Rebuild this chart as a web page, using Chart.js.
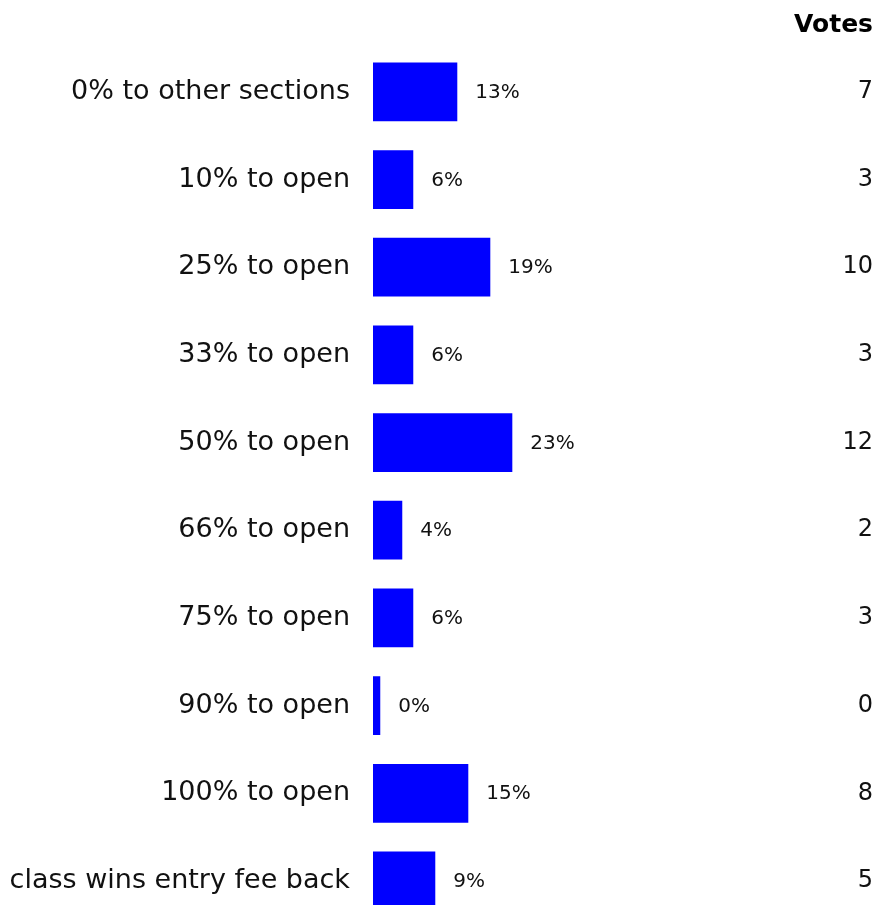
<!DOCTYPE html>
<html>
<head>
<meta charset="utf-8">
<script src="https://cdn.jsdelivr.net/npm/chart.js"></script>
<style>
  html, body { margin: 0; padding: 0; background: #fff; overflow: hidden; }
  canvas { display: block; }
</style>
</head>
<body>
<canvas id="pollChart" width="875" height="964"></canvas>
<script>
// poll answers, vote counts and shown percentages
const categories = ['0% to other sections', '10% to open', '25% to open', '33% to open', '50% to open',
  '66% to open', '75% to open', '90% to open', '100% to open', 'class wins entry fee back'];
const votes = [7, 3, 10, 3, 12, 2, 3, 0, 8, 5];
const percents = [13, 6, 19, 6, 23, 4, 6, 0, 15, 9];
const voteLabels = votes.map(v => String(v));

// write the percentage just right of each bar
const pctLabels = {
  id: 'pctLabels',
  afterDatasetsDraw(chart) {
    const ctx = chart.ctx;
    const meta = chart.getDatasetMeta(0);
    ctx.save();
    ctx.font = '20px "DejaVu Sans", Verdana, sans-serif';
    ctx.fillStyle = '#111';
    ctx.textAlign = 'left';
    ctx.textBaseline = 'middle';
    meta.data.forEach((bar, i) => {
      ctx.fillText(percents[i] + '%', bar.x + 18, bar.y + 1);
    });
    ctx.restore();
  }
};

new Chart(document.getElementById('pollChart'), {
  type: 'bar',
  data: {
    labels: categories,
    datasets: [{
      data: votes,
      base: -0.66,
      backgroundColor: '#0000ff',
      borderWidth: 0,
      categoryPercentage: 1,
      barPercentage: 0.67
    }]
  },
  options: {
    indexAxis: 'y',
    responsive: false,
    animation: false,
    devicePixelRatio: 1,
    layout: { padding: { top: 0, right: 2, bottom: 5, left: 0 } },
    plugins: {
      legend: { display: false },
      tooltip: { enabled: false },
      title: {
        display: true,
        text: 'Votes',
        align: 'end',
        color: '#000',
        font: { family: '"DejaVu Sans", Verdana, sans-serif', size: 25, weight: 'bold' },
        padding: { top: 10, bottom: 8 }
      }
    },
    scales: {
      x: { display: false, min: -0.66, max: 42 },
      y: {
        position: 'left',
        grid: { display: false, drawTicks: false },
        border: { display: false },
        ticks: {
          color: '#111',
          padding: 23,
          font: { family: '"DejaVu Sans", Verdana, sans-serif', size: 27 }
        },
        afterFit(scale) { scale.width = 373; }
      },
      votes: {
        type: 'category',
        position: 'right',
        labels: voteLabels,
        offset: true,
        grid: { display: false, drawTicks: false },
        border: { display: false },
        ticks: {
          color: '#111',
          padding: 0,
          crossAlign: 'far',
          font: { family: '"DejaVu Sans", Verdana, sans-serif', size: 24 }
        }
      }
    }
  },
  plugins: [pctLabels]
});
</script>
</body>
</html>
